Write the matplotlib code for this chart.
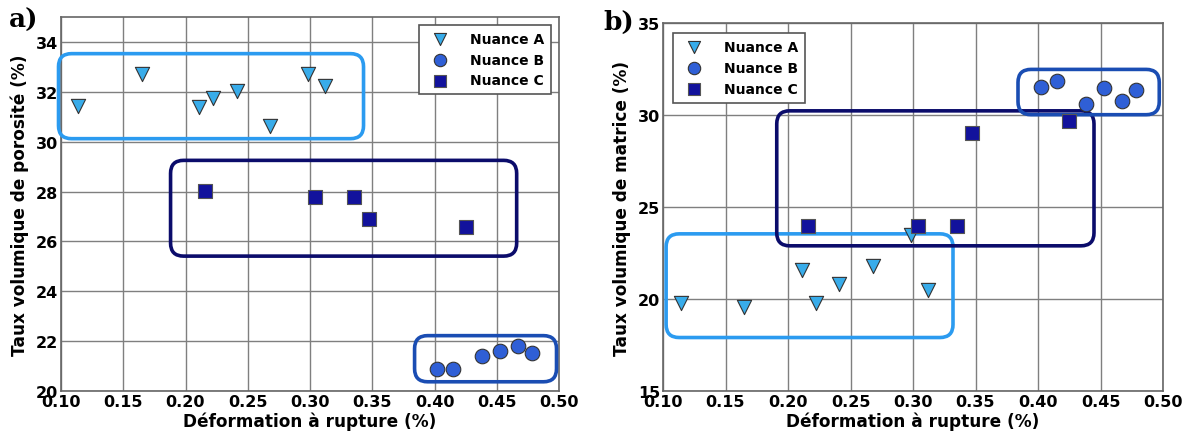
import matplotlib
matplotlib.use("Agg")
import matplotlib.pyplot as plt
from matplotlib.patches import FancyBboxPatch

# ---------------- data ----------------
x_A = [0.114, 0.165, 0.211, 0.222, 0.241, 0.268, 0.298, 0.312]
x_B = [0.402, 0.415, 0.438, 0.453, 0.467, 0.478]
x_C = [0.216, 0.304, 0.335, 0.347, 0.425]

poro_A = [31.45, 32.73, 31.4, 31.74, 32.05, 30.64, 32.73, 32.25]
poro_B = [20.9, 20.9, 21.4, 21.6, 21.8, 21.53]
poro_C = [28.03, 27.79, 27.79, 26.9, 26.59]

matr_A = [19.8, 19.6, 21.6, 19.8, 20.8, 21.8, 23.5, 20.5]
matr_B = [31.55, 31.85, 30.6, 31.45, 30.75, 31.35]
matr_C = [24.0, 24.0, 24.0, 29.0, 29.7]

labels = ["Nuance A", "Nuance B", "Nuance C"]
xlabel = "Déformation à rupture (%)"
ylabel_a = "Taux volumique de porosité (%)"
ylabel_b = "Taux volumique de matrice (%)"
xticks = [0.10, 0.15, 0.20, 0.25, 0.30, 0.35, 0.40, 0.45, 0.50]
yticks_a = [20, 22, 24, 26, 28, 30, 32, 34]
yticks_b = [15, 20, 25, 30, 35]

# grouping boxes (x0, x1, y0, y1) in data coordinates
boxes_a = [(0.098, 0.343, 30.12, 33.53, "#2b9bf0"),
           (0.188, 0.466, 25.41, 29.25, "#0b0c6b"),
           (0.384, 0.498, 20.37, 22.22, "#1a4db3")]
boxes_b = [(0.1025, 0.332, 17.92, 23.55, "#2b9bf0"),
           (0.191, 0.4448, 22.9, 30.23, "#0b0c6b"),
           (0.384, 0.497, 30.02, 32.48, "#1a4db3")]

# ---------------- style ----------------
col_A = "#38acea"
col_B = "#2f5fd6"
col_C = "#12129c"
edge = "#333333"

fig = plt.figure(figsize=(11.89, 4.35), dpi=100)
ax1 = fig.add_axes([61/1189, 1-392/435, (559-61)/1189, (392-18)/435])
ax2 = fig.add_axes([663/1189, 1-392.3/435, (1163-663)/1189, (392.3-24)/435])

def setup(ax, ylim, yticks, ylabel):
    ax.set_xlim(0.10, 0.50)
    ax.set_ylim(*ylim)
    ax.set_xticks(xticks)
    ax.set_xticklabels([f"{t:.2f}" for t in xticks])
    ax.set_yticks(yticks)
    ax.set_yticklabels([str(t) for t in yticks])
    ax.grid(True, color="#7f7f7f", linewidth=1.0, zorder=0)
    ax.set_axisbelow(True)
    for s in ax.spines.values():
        s.set_color("#666666")
        s.set_linewidth(1.2)
    ax.tick_params(direction="in", length=0, pad=2, labelsize=11.5)
    for lab in ax.get_xticklabels() + ax.get_yticklabels():
        lab.set_fontweight("bold")
    ax.set_xlabel(xlabel, fontsize=12.2, fontweight="bold", labelpad=2)
    ax.set_ylabel(ylabel, fontsize=12.2, fontweight="bold", labelpad=5)

def draw(ax, yA, yB, yC):
    hA = ax.scatter(x_A, yA, marker="v", s=105, c=col_A, edgecolors=edge, linewidths=0.8, zorder=5)
    hB = ax.scatter(x_B, yB, marker="o", s=110, c=col_B, edgecolors=edge, linewidths=0.8, zorder=5)
    hC = ax.scatter(x_C, yC, marker="s", s=95, c=col_C, edgecolors="#555555", linewidths=0.8, zorder=5)
    return [hA, hB, hC]

def add_boxes(ax, boxes):
    fig.canvas.draw()
    x0, x1 = ax.get_xlim(); y0, y1 = ax.get_ylim()
    bb = ax.get_window_extent()
    ppx = bb.width / (x1 - x0)
    ppy = bb.height / (y1 - y0)
    r_px = 13
    for bx0, bx1, by0, by1, col in boxes:
        p = FancyBboxPatch((bx0, by0), bx1 - bx0, by1 - by0,
                           boxstyle=f"round,pad=0,rounding_size={r_px/ppx}",
                           mutation_aspect=ppx/ppy,
                           fill=False, edgecolor=col, linewidth=2.6,
                           transform=ax.transData, clip_on=False, zorder=4)
        ax.add_patch(p)

setup(ax1, (20, 35), yticks_a, ylabel_a)
setup(ax2, (15, 35), yticks_b, ylabel_b)
h1 = draw(ax1, poro_A, poro_B, poro_C)
h2 = draw(ax2, matr_A, matr_B, matr_C)
add_boxes(ax1, boxes_a)
add_boxes(ax2, boxes_b)

legkw = dict(scatterpoints=1, fancybox=False, edgecolor="#555555", framealpha=1,
             prop={"weight": "bold", "size": 10}, handletextpad=1.2,
             labelspacing=0.5, borderpad=0.5, markerscale=0.85)
l1 = ax1.legend(h1, labels, loc="upper right", borderaxespad=0.55, **legkw)
l2 = ax2.legend(h2, labels, loc="upper left", borderaxespad=0.7, **legkw)
for l in (l1, l2):
    l.get_frame().set_linewidth(1.2)
    l.set_zorder(10)

fig.text(9/1189, 1-28/435, "a)", fontsize=19, fontweight="bold", family="DejaVu Serif")
fig.text(603/1189, 1-30/435, "b)", fontsize=19, fontweight="bold", family="DejaVu Serif")

fig.savefig("out.png", dpi=100)
